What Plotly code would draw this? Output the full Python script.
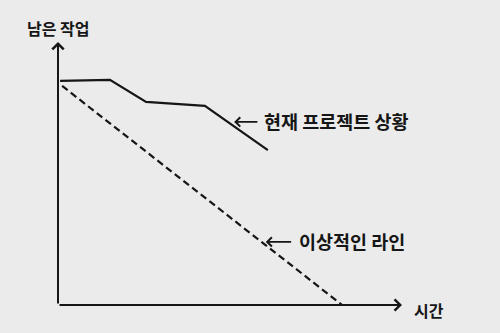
import plotly.graph_objects as go

# Burndown chart data (time units 0-100, remaining work units 0-100)
time_actual = [0.6, 15.1, 25.6, 42.7, 61.0]
remaining_actual = [85.2, 85.6, 77.2, 75.7, 58.9]
time_ideal = [1.2, 82.6]
remaining_ideal = [83.3, 0.0]

label_y = "남은 작업"
label_x = "시간"
label_actual = "현재 프로젝트 상황"
label_ideal = "이상적인 라인"

ink = "#161616"
bg = "#eaebea"
font = "Noto Sans CJK KR"

fig = go.Figure()
fig.add_trace(go.Scatter(x=time_actual, y=remaining_actual, mode="lines",
                         line=dict(color=ink, width=2.2), hoverinfo="skip"))
fig.add_trace(go.Scatter(x=time_ideal, y=remaining_ideal, mode="lines",
                         line=dict(color=ink, width=2.2, dash="7px,4px"), hoverinfo="skip"))

ann = []
# axes with arrowheads
ann.append(dict(x=100, y=0, ax=0, ay=0, xref="x", yref="y", axref="x", ayref="y",
                text="", showarrow=True, arrowhead=4, arrowsize=1.1, arrowwidth=2,
                arrowcolor=ink, standoff=0, startstandoff=0))
ann.append(dict(x=0, y=100, ax=0, ay=0, xref="x", yref="y", axref="x", ayref="y",
                text="", showarrow=True, arrowhead=4, arrowsize=1.1, arrowwidth=2,
                arrowcolor=ink, standoff=0, startstandoff=0))
# callout arrows
ann.append(dict(x=51.2, y=69.6, ax=58.4, ay=69.6, xref="x", yref="y", axref="x", ayref="y",
                text="", showarrow=True, arrowhead=4, arrowsize=1.0, arrowwidth=1.8,
                arrowcolor=ink, standoff=0, startstandoff=0))
ann.append(dict(x=60.4, y=24.0, ax=68.2, ay=24.0, xref="x", yref="y", axref="x", ayref="y",
                text="", showarrow=True, arrowhead=4, arrowsize=1.0, arrowwidth=1.8,
                arrowcolor=ink, standoff=0, startstandoff=0))
# texts
ann.append(dict(x=59.2, y=70.0, xref="x", yref="y", text="<b>" + label_actual + "</b>", showarrow=False,
                xanchor="left", yanchor="middle",
                font=dict(family=font, size=18.5, color=ink)))
ann.append(dict(x=69.4, y=24.3, xref="x", yref="y", text="<b>" + label_ideal + "</b>", showarrow=False,
                xanchor="left", yanchor="middle",
                font=dict(family=font, size=18.5, color=ink)))
ann.append(dict(x=0.002, y=1.053, xref="paper", yref="paper", text="<b>" + label_y + "</b>", showarrow=False,
                xanchor="center", yanchor="middle",
                font=dict(family=font, size=16, color=ink)))
ann.append(dict(x=1.029, y=-0.02, xref="paper", yref="paper", text="<b>" + label_x + "</b>", showarrow=False,
                xanchor="left", yanchor="middle",
                font=dict(family=font, size=16, color=ink)))

fig.update_layout(
    width=500, height=333,
    margin=dict(l=58, r=98, t=42, b=28),
    paper_bgcolor=bg, plot_bgcolor=bg,
    showlegend=False,
    annotations=ann,
    xaxis=dict(range=[0, 100], visible=False, fixedrange=True),
    yaxis=dict(range=[0, 100], visible=False, fixedrange=True),
)
fig.write_html("out.html")
